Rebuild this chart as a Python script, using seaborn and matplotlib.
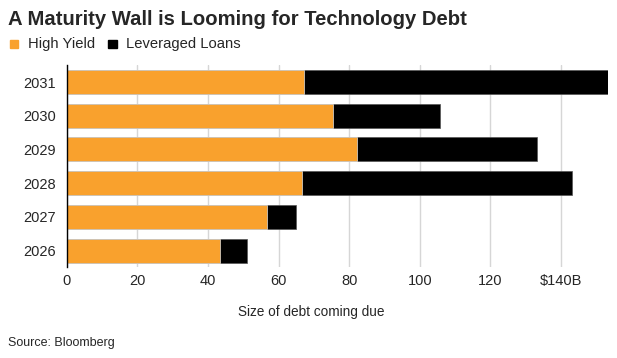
import matplotlib
matplotlib.use("Agg")
import matplotlib.pyplot as plt
import pandas as pd
import seaborn as sns

# Data ($ billions)
years = ["2031", "2030", "2029", "2028", "2027", "2026"]
high_yield = [67.2, 75.5, 82.1, 66.7, 56.7, 43.5]
leveraged_loans = [86.2, 30.3, 51.2, 76.4, 8.3, 7.5]
x_ticks = [0, 20, 40, 60, 80, 100, 120, 140]
x_tick_labels = ["0", "20", "40", "60", "80", "100", "120", "$140B"]

ORANGE = "#F9A12D"
BLACK = "#000000"
W, H = 617, 358

df = pd.DataFrame({
    "Year": years,
    "High Yield": high_yield,
    "Leveraged Loans": leveraged_loans,
})
df["Total"] = df["High Yield"] + df["Leveraged Loans"]

sns.set_style("white")
plt.rcParams["font.family"] = ["Liberation Sans", "DejaVu Sans"]

fig = plt.figure(figsize=(W / 100, H / 100), dpi=100)
ax = fig.add_axes([66.7 / W, 1 - 267.4 / H, (608.3 - 66.7) / W, (267.4 - 65.2) / H])

# stacked bars: total (black) underneath, high yield (orange) on top
sns.barplot(data=df, x="Total", y="Year", order=years, orient="h",
            color=BLACK, width=0.71, saturation=1, edgecolor="#555555",
            linewidth=0.5, ax=ax, zorder=2)
sns.barplot(data=df, x="High Yield", y="Year", order=years, orient="h",
            color=ORANGE, width=0.71, saturation=1, edgecolor="#e0e0e0",
            linewidth=0.5, ax=ax, zorder=3)

ax.set_xlim(0, 153.4)
ax.set_xticks(x_ticks)
ax.set_xticklabels(x_tick_labels, fontsize=10.5)
ax.tick_params(axis="y", labelsize=10.5, length=0, pad=8)
ax.tick_params(axis="x", length=0, pad=5)
ax.set_xlabel("")
ax.set_ylabel("")
ax.grid(axis="x", color="#d6d6d6", linewidth=1, zorder=0)
ax.set_axisbelow(True)
for side in ["top", "right", "bottom"]:
    ax.spines[side].set_visible(False)
ax.spines["left"].set_color("black")
ax.spines["left"].set_linewidth(1)
ax.spines["left"].set_zorder(4)

# title, legend, axis label, source
fig.text(8 / W, 1 - 25 / H, "A Maturity Wall is Looming for Technology Debt",
         fontsize=14.6, fontweight="bold", ha="left", va="baseline")
fig.patches.append(plt.Rectangle((10 / W, 1 - 48 / H), 8 / W, 8 / H,
                                 transform=fig.transFigure, color=ORANGE))
fig.text(28 / W, 1 - 44 / H, "High Yield", fontsize=10.6, ha="left", va="center")
fig.patches.append(plt.Rectangle((108 / W, 1 - 48 / H), 9 / W, 8 / H,
                                 transform=fig.transFigure, color=BLACK))
fig.text(126 / W, 1 - 44 / H, "Leveraged Loans", fontsize=10.6, ha="left", va="center")
fig.text(311 / W, 1 - 312 / H, "Size of debt coming due", fontsize=9.8,
         ha="center", va="center")
fig.text(8 / W, 1 - 343 / H, "Source: Bloomberg", fontsize=9,
         ha="left", va="center")

fig.savefig("out.png", dpi=100)
